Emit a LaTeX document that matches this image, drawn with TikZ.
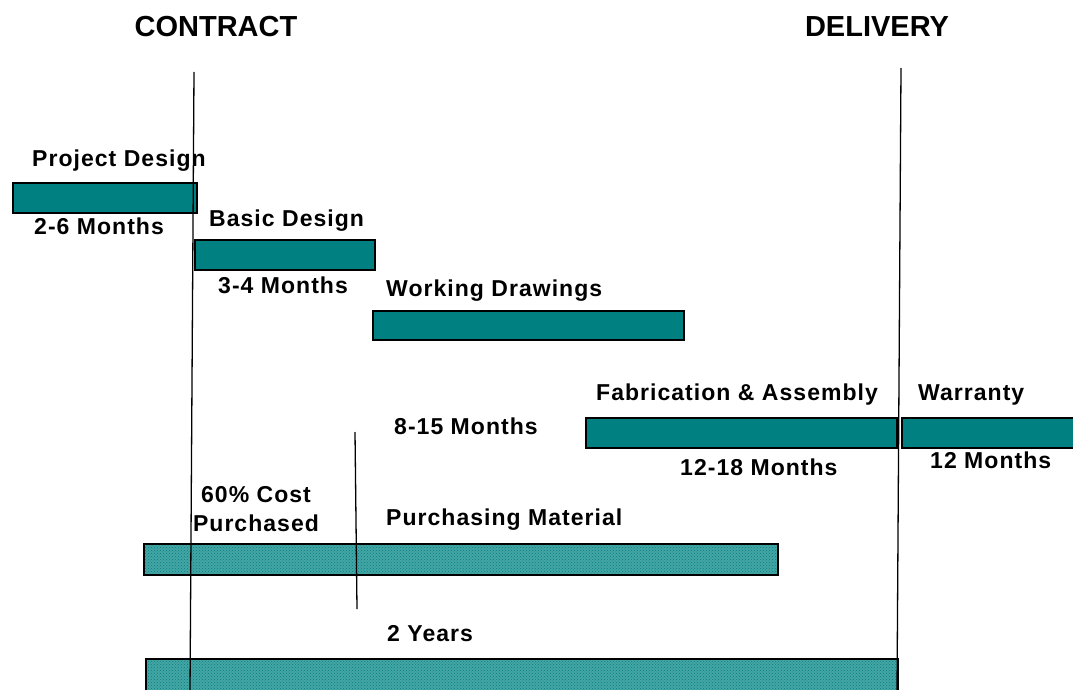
\documentclass[tikz,border=0pt]{standalone}
\usepackage{fontspec}
\setmainfont{Liberation Sans}
\newfontfamily\spacedbold[LetterSpace=4.5]{Liberation Sans Bold}
\usetikzlibrary{patterns}
\definecolor{barteal}{RGB}{0,128,128}
\definecolor{lightteal}{RGB}{70,165,165}
\begin{document}
\begin{tikzpicture}[x=1pt,y=-1pt,
  solidbar/.style={draw=black, line width=2.4pt, fill=barteal, inner sep=0pt, anchor=north west},
  dotbar/.style={draw=black, line width=2.4pt, inner sep=0pt, anchor=north west,
    preaction={fill=lightteal}, pattern=crosshatch dots, pattern color=barteal},
  lbl/.style={font=\fontsize{23}{26}\spacedbold, inner sep=0pt, anchor=base west},
  title/.style={font=\fontsize{29}{32}\selectfont\bfseries, inner sep=0pt, anchor=base},
  milestone/.style={draw=black, line width=1.3pt}]
\useasboundingbox (0,0) rectangle (1073,690);

% headings
\node[title] (contract) at (216,37) {CONTRACT};
\node[title] (delivery) at (877,37) {DELIVERY};

% bars
\node[solidbar, minimum width=184, minimum height=30] (pd) at (12,182) {};
\node[solidbar, minimum width=180, minimum height=30] (bd) at (194,239) {};
\node[solidbar, minimum width=311, minimum height=29] (wd) at (372,310) {};
\node[solidbar, minimum width=311, minimum height=30] (fa) at (585,417) {};
\node[solidbar, minimum width=180, minimum height=30] (wa) at (901,417) {};
\node[dotbar, minimum width=634, minimum height=31] (pm) at (143,543) {};
\node[dotbar, minimum width=752, minimum height=32] (ty) at (145,658) {};

% milestone lines
\coordinate (c1) at (194,72);
\coordinate (c2) at (190,692);
\coordinate (d1) at (901,68);
\coordinate (d2) at (897,692);
\coordinate (m1) at (355,432);
\coordinate (m2) at (357,609);
\draw[milestone] (c1) -- (c2);
\draw[milestone] (d1) -- (d2);
\draw[milestone] (m1) -- (m2);

% labels
\node[lbl] (lpd) at (32,166) {Project Design};
\node[lbl] (lpdm) at (34,234) {2-6 Months};
\node[lbl] (lbd) at (209,226) {Basic Design};
\node[lbl] (lbdm) at (218,293) {3-4 Months};
\node[lbl] (lwd) at (386,296) {Working Drawings};
\node[lbl] (lfa) at (596,400) {Fabrication \& Assembly};
\node[lbl] (lwa) at (918,400) {Warranty};
\node[lbl] (lwdm) at (394,434) {8-15 Months};
\node[lbl] (lfam) at (680,475) {12-18 Months};
\node[lbl] (lwam) at (930,468) {12 Months};
\node[font=\fontsize{23}{29}\spacedbold, inner sep=0pt, align=center, anchor=north] (lcost) at (256,486) {60\% Cost\\Purchased};
\node[lbl] (lpm) at (386,525) {Purchasing Material};
\node[lbl] (lty) at (387,641) {2 Years};
\end{tikzpicture}
\end{document}
